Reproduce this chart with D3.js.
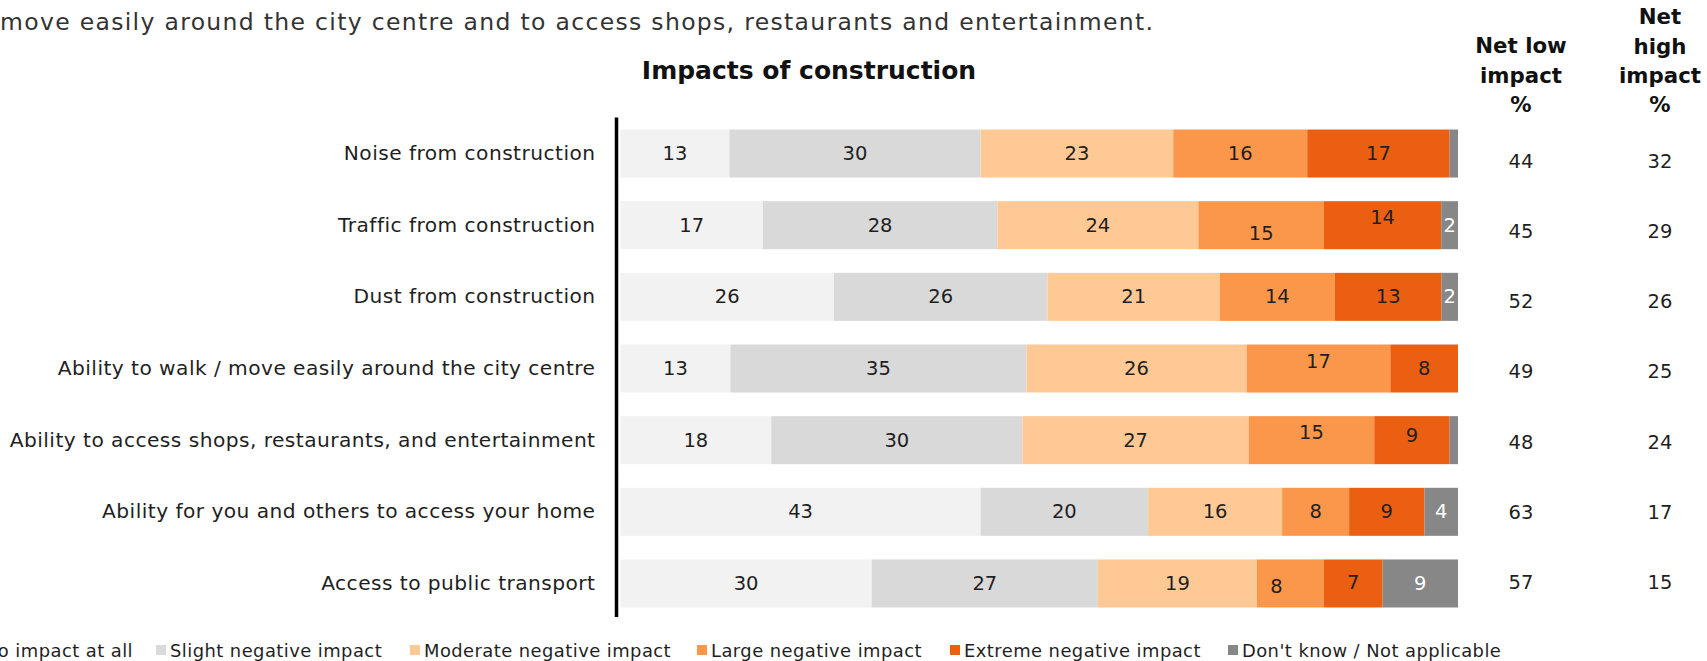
<!DOCTYPE html>
<html><head><meta charset="utf-8">
<script src="https://cdn.jsdelivr.net/npm/d3@7"></script>
<style>
html,body{margin:0;padding:0;background:#fff;overflow:hidden}
svg{display:block}
text{font-family:"DejaVu Sans","Noto Sans",sans-serif;}
</style></head>
<body>
<svg id="c" width="1707" height="661"></svg>
<script>
// ---------- DATA ----------
const categories = [
  "Noise from construction",
  "Traffic from construction",
  "Dust from construction",
  "Ability to walk / move easily around the city centre",
  "Ability to access shops, restaurants, and entertainment",
  "Ability for you and others to access your home",
  "Access to public transport"
];
const seriesNames = ["No impact at all","Slight negative impact","Moderate negative impact","Large negative impact","Extreme negative impact","Don't know / Not applicable"];
const noImpact   = [13,17,26,13,18,43,30];
const slight     = [30,28,26,35,30,20,27];
const moderate   = [23,24,21,26,27,16,19];
const large      = [16,15,14,17,15, 8, 8];
const extreme    = [17,14,13, 8, 9, 9, 7];
const dontKnow   = [ 1, 2, 2, 0, 1, 4, 9];
const netLow     = [44,45,52,49,48,63,57];
const netHigh    = [32,29,26,25,24,17,15];
const subtitleTail = "move easily around the city centre and to access shops, restaurants and entertainment.";
const chartTitle = "Impacts of construction";
const netLowHeader = ["Net low","impact","%"];
const netHighHeader = ["Net","high","impact","%"];

// ---------- STYLE / LAYOUT ----------
const colors = ["#f2f2f2","#d9d9d9","#ffc995","#fb974b","#eb5f12","#878787"];
const textC = "#1f1f1f";
const labelColors = [textC,textC,textC,textC,textC,"#ffffff"];
const hideLabelBelow = 1.5;
// label nudges: [row, series, dx, dy]
const labelNudges = [[1,3,0,8],[1,4,0,-8],[3,3,0,-7],[4,3,0,-8],[4,4,0,-5],[6,3,-14,3],[6,4,0,-1]];
const legendX = [-30, 156, 410, 697, 950, 1228];
const textW = 400;

const svg = d3.select("#c");
const seriesArrays = [noImpact, slight, moderate, large, extreme, dontKnow];
const rows = categories.map((c,i)=>{
  const o = {cat:c};
  seriesNames.forEach((s,j)=>o[s]=seriesArrays[j][i]);
  return o;
});
const stack = d3.stack().keys(seriesNames).offset(d3.stackOffsetExpand);
const stacked = stack(rows);

const x = d3.scaleLinear().domain([0,1]).range([620.5,1458]);
const y = d3.scaleBand().domain(categories).range([117.7,619.3]).paddingInner(0.33).paddingOuter(0.165);
const yNet = d3.scalePoint().domain(categories).range([161,582.5]);
const color = d3.scaleOrdinal().domain(seriesNames).range(colors);

// subtitle tail
svg.append("text").attr("x",0).attr("y",30).attr("font-size",23.5).attr("font-weight",textW)
  .attr("fill","#333").attr("textLength",1153).attr("lengthAdjust","spacing").text(subtitleTail);
// title
svg.append("text").attr("x",809).attr("y",79).attr("text-anchor","middle")
  .attr("font-size",25).attr("font-weight",700).attr("fill","#111").text(chartTitle);

// net headers
netLowHeader.forEach((t,i)=>svg.append("text").attr("x",1521).attr("y",45.7+i*29.4)
  .attr("dominant-baseline","central").attr("text-anchor","middle").attr("font-size",21.3)
  .attr("font-weight",700).attr("fill","#111").text(t));
netHighHeader.forEach((t,i)=>svg.append("text").attr("x",1660).attr("y",16.9+i*29.2)
  .attr("dominant-baseline","central").attr("text-anchor","middle").attr("font-size",21.3)
  .attr("font-weight",700).attr("fill","#111").text(t));

// bars
const g = svg.append("g");
const layer = g.selectAll("g.layer").data(stacked).join("g").attr("class","layer")
  .attr("fill",d=>color(d.key));
layer.selectAll("rect").data(d=>d).join("rect")
  .attr("x",d=>x(d[0])).attr("width",d=>Math.max(0,x(d[1])-x(d[0])))
  .attr("y",d=>y(d.data.cat)).attr("height",y.bandwidth());

// segment labels
stacked.forEach((s,j)=>{
  s.forEach((d,i)=>{
    const v = seriesArrays[j][i];
    if(v < hideLabelBelow) return;
    const n = labelNudges.find(a=>a[0]===i&&a[1]===j);
    const dx = n?n[2]:0, dy = n?n[3]:0;
    g.append("text").attr("x",(x(d[0])+x(d[1]))/2+dx)
      .attr("y",y(d.data.cat)+y.bandwidth()/2+dy)
      .attr("text-anchor","middle").attr("dominant-baseline","central")
      .attr("font-size",19.5).attr("font-weight",textW).attr("fill",labelColors[j]).text(v);
  });
});

// category axis
const axis = d3.axisLeft(y).tickSize(0).tickPadding(21);
const ax = svg.append("g").attr("transform","translate(616.5,0)").call(axis);
ax.select(".domain").remove();
ax.selectAll("text").attr("font-size",20.2).attr("font-weight",textW).attr("fill",textC)
  .attr("letter-spacing","0.45px")
  .style("font-family","'DejaVu Sans','Noto Sans',sans-serif");
svg.append("line").attr("x1",616.5).attr("x2",616.5).attr("y1",117.6).attr("y2",617)
  .attr("stroke","#000").attr("stroke-width",3.5);

// net values
categories.forEach((c,i)=>{
  svg.append("text").attr("x",1521).attr("y",yNet(c)).attr("text-anchor","middle")
    .attr("dominant-baseline","central").attr("font-size",19.5).attr("font-weight",textW)
    .attr("fill",textC).text(netLow[i]);
  svg.append("text").attr("x",1660).attr("y",yNet(c)).attr("text-anchor","middle")
    .attr("dominant-baseline","central").attr("font-size",19.5).attr("font-weight",textW)
    .attr("fill",textC).text(netHigh[i]);
});

// legend
const lg = svg.append("g");
seriesNames.forEach((s,j)=>{
  lg.append("rect").attr("x",legendX[j]).attr("y",645).attr("width",10).attr("height",10).attr("fill",colors[j]);
  lg.append("text").attr("x",legendX[j]+14).attr("y",650).attr("dominant-baseline","central")
    .attr("font-size",17.9).attr("font-weight",textW).attr("letter-spacing","0.45px")
    .attr("fill",textC).text(s);
});
</script>
</body></html>
